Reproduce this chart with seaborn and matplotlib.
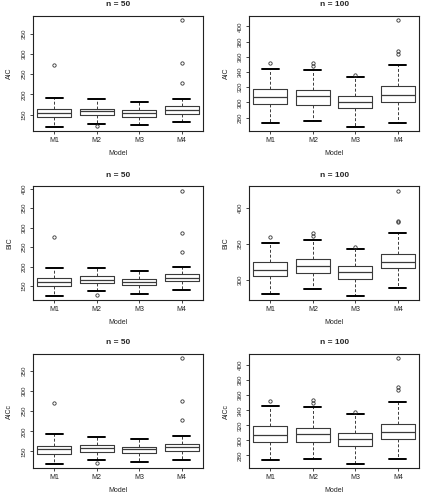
import matplotlib
matplotlib.use("Agg")
import matplotlib.pyplot as plt
import numpy as np
import pandas as pd
import seaborn as sns

sns.set_style("white")
plt.rcParams["font.family"] = ["Liberation Sans", "DejaVu Sans"]

MODELS = ["M1", "M2", "M3", "M4"]

# five-number summaries per model: [lower whisker, Q1, median, Q3, upper whisker]
AIC_50 = [[120, 145, 155, 165, 192], [127, 148, 158, 165, 188],
          [124, 144, 154, 162, 181], [131, 152, 161, 171, 189]]
AIC_50_OUT = [[272], [121], [], [227, 277, 383]]

AIC_100 = [[273, 298, 307, 318, 344], [275, 297, 308, 316, 343],
           [268, 292, 301, 309, 333], [273, 301, 310, 321, 349]]
AIC_100_OUT = [[352], [348, 352], [336], [364, 368, 408]]

BIC_50 = [[125, 151, 161, 170, 196], [137, 157, 166, 176, 197],
          [130, 152, 160, 169, 189], [140, 162, 171, 181, 198]]
BIC_50_OUT = [[277], [127], [], [238, 287, 395]]

BIC_100 = [[281, 305, 314, 325.5, 351], [287.5, 309.5, 320, 328.5, 356],
           [278, 302, 311, 319.5, 343], [289, 316, 325, 336, 365]]
BIC_100_OUT = [[359], [361, 365], [346], [380, 382, 424]]

AICC_50 = [[119, 144, 155, 164, 192], [127.5, 148.5, 158, 166, 186],
           [124, 145, 155, 161, 181], [129, 152, 162, 169, 189]]
AICC_50_OUT = [[271], [120.5], [], [227, 276, 382]]

AICC_100 = [[274, 298, 307, 318.5, 345], [275.5, 298, 309, 317, 344],
            [269, 292.5, 302, 310, 334.5], [275, 302, 311, 322, 351]]
AICC_100_OUT = [[352], [350, 353], [338], [367.5, 371, 409]]

PANELS = [
    ("AIC", "n = 50", AIC_50, AIC_50_OUT, [150, 200, 250, 300, 350]),
    ("AIC", "n = 100", AIC_100, AIC_100_OUT, [280, 300, 320, 340, 360, 380, 400]),
    ("BIC", "n = 50", BIC_50, BIC_50_OUT, [150, 200, 250, 300, 350, 400]),
    ("BIC", "n = 100", BIC_100, BIC_100_OUT, [300, 350, 400]),
    ("AICc", "n = 50", AICC_50, AICC_50_OUT, [150, 200, 250, 300, 350]),
    ("AICc", "n = 100", AICC_100, AICC_100_OUT, [280, 300, 320, 340, 360, 380, 400]),
]


def expand(summary, outs):
    # smallest sample whose quartiles / whiskers / fliers equal the summary
    lo, q1, med, q3, hi = summary
    lows = [v for v in outs if v < q1]
    highs = [v for v in outs if v > q3]
    k = max(len(lows), len(highs)) + 1
    return (lows + [lo] * (k - len(lows)) + [q1] * k + [med] * k + [q3]
            + [hi] * (k - len(highs)) + highs)


LINE = "#3a3a3a"

fig = plt.figure(figsize=(4.23, 4.94), dpi=100)

lefts = [0.078, 0.589]
rows = [(0.7348, 0.2328), (0.3927, 0.2298), (0.0526, 0.2308)]

for i, (crit, title, summ, outs, ticks) in enumerate(PANELS):
    bottom, height = rows[i // 2]
    ax = fig.add_axes([lefts[i % 2], bottom, 0.402, height])

    recs = []
    for m, s, o in zip(MODELS, summ, outs):
        for v in expand(s, o):
            recs.append({"Model": m, "value": v})
    df = pd.DataFrame(recs)

    sns.boxplot(data=df, x="Model", y="value", order=MODELS, ax=ax,
                fill=False, color=LINE, linewidth=0.8, width=0.8, whis=1.5,
                boxprops=dict(color=LINE, lw=0.8),
                whiskerprops=dict(linestyle=(0, (3, 2)), color=LINE, lw=0.7),
                capprops=dict(color="black", lw=1.4),
                medianprops=dict(color=LINE, lw=0.9),
                flierprops=dict(marker="o", markersize=2.4, markerfacecolor="none",
                                markeredgecolor="#333333", markeredgewidth=0.6))

    allv = df["value"]
    pad = (allv.max() - allv.min()) * 0.04
    ax.set_ylim(allv.min() - pad, allv.max() + pad)
    ax.set_xlim(-0.5, 3.5)
    ax.set_yticks(ticks)
    ax.set_yticklabels([str(t) for t in ticks], rotation=90, va="center", fontsize=4.5)
    ax.tick_params(axis="x", labelsize=5, length=2.5, width=0.6, pad=2, direction="out",
                   bottom=True)
    ax.tick_params(axis="y", length=2.5, width=0.6, pad=2, direction="out", left=True)
    ax.set_xlabel("Model", fontsize=5, labelpad=4)
    ax.set_ylabel(crit, fontsize=5, labelpad=6)
    ax.set_title(title, fontsize=6, fontweight="bold", pad=7)
    for sp in ax.spines.values():
        sp.set_visible(True)
        sp.set_color("#222222")
        sp.set_linewidth(0.8)

fig.savefig("out.png", dpi=100)
